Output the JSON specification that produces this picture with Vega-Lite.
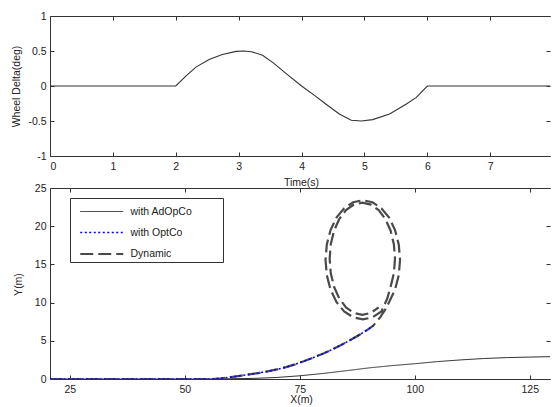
{
  "$schema": "https://vega.github.io/schema/vega-lite/v6.json",
  "background": "white",
  "padding": {"left": 11, "top": 11, "right": 0, "bottom": 0},
  "spacing": -9,
  "resolve": {"legend": {"color": "independent", "strokeDash": "independent", "strokeWidth": "independent"}},
  "config": {
    "view": {"stroke": null},
    "font": "Liberation Sans",
    "axis": {
      "grid": false,
      "domainColor": "#333",
      "tickColor": "#333",
      "labelColor": "#222",
      "titleColor": "#222",
      "labelFont": "Liberation Sans",
      "titleFont": "Liberation Sans",
      "labelFontSize": 10.5,
      "titleFontSize": 10.5,
      "titleFontWeight": "normal",
      "tickSize": -4,
      "domainWidth": 1,
      "labelExpr": "'' + datum.value"
    }
  },
  "datasets": {
    "steer": [
      {"t": 0, "v": 0}, {"t": 2, "v": 0}, {"t": 2.16, "v": 0.142}, {"t": 2.32, "v": 0.27},
      {"t": 2.53, "v": 0.38}, {"t": 2.74, "v": 0.45}, {"t": 2.96, "v": 0.495}, {"t": 3.08, "v": 0.5},
      {"t": 3.2, "v": 0.49}, {"t": 3.38, "v": 0.44}, {"t": 3.55, "v": 0.33}, {"t": 3.78, "v": 0.16},
      {"t": 4.0, "v": 0.0}, {"t": 4.2, "v": -0.13}, {"t": 4.39, "v": -0.26}, {"t": 4.6, "v": -0.4},
      {"t": 4.79, "v": -0.49}, {"t": 4.95, "v": -0.5}, {"t": 5.13, "v": -0.48}, {"t": 5.4, "v": -0.4},
      {"t": 5.66, "v": -0.26}, {"t": 5.82, "v": -0.166}, {"t": 6.0, "v": 0}, {"t": 7.95, "v": 0}
    ],
    "traj": [
      {"series": "with AdOpCo", "i": 0, "x": 20.7, "y": 0},
      {"series": "with AdOpCo", "i": 1, "x": 55, "y": 0},
      {"series": "with AdOpCo", "i": 2, "x": 60, "y": 0.03},
      {"series": "with AdOpCo", "i": 3, "x": 65, "y": 0.08},
      {"series": "with AdOpCo", "i": 4, "x": 70, "y": 0.2},
      {"series": "with AdOpCo", "i": 5, "x": 75, "y": 0.42},
      {"series": "with AdOpCo", "i": 6, "x": 80, "y": 0.72},
      {"series": "with AdOpCo", "i": 7, "x": 85, "y": 1.08},
      {"series": "with AdOpCo", "i": 8, "x": 90, "y": 1.45},
      {"series": "with AdOpCo", "i": 9, "x": 95, "y": 1.75},
      {"series": "with AdOpCo", "i": 10, "x": 100, "y": 2.0},
      {"series": "with AdOpCo", "i": 11, "x": 105, "y": 2.28},
      {"series": "with AdOpCo", "i": 12, "x": 110, "y": 2.5},
      {"series": "with AdOpCo", "i": 13, "x": 115, "y": 2.68},
      {"series": "with AdOpCo", "i": 14, "x": 120, "y": 2.8},
      {"series": "with AdOpCo", "i": 15, "x": 125, "y": 2.87},
      {"series": "with AdOpCo", "i": 16, "x": 129.4, "y": 2.92},

      {"series": "with OptCo", "i": 0, "x": 20.7, "y": 0},
      {"series": "with OptCo", "i": 1, "x": 56, "y": 0},
      {"series": "with OptCo", "i": 2, "x": 58, "y": 0.1},
      {"series": "with OptCo", "i": 3, "x": 60, "y": 0.25},
      {"series": "with OptCo", "i": 4, "x": 62, "y": 0.42},
      {"series": "with OptCo", "i": 5, "x": 64, "y": 0.6},
      {"series": "with OptCo", "i": 6, "x": 66, "y": 0.78},
      {"series": "with OptCo", "i": 7, "x": 68, "y": 1.0},
      {"series": "with OptCo", "i": 8, "x": 70, "y": 1.25},
      {"series": "with OptCo", "i": 9, "x": 72, "y": 1.55},
      {"series": "with OptCo", "i": 10, "x": 74, "y": 1.92},
      {"series": "with OptCo", "i": 11, "x": 76, "y": 2.35},
      {"series": "with OptCo", "i": 12, "x": 78, "y": 2.82},
      {"series": "with OptCo", "i": 13, "x": 80, "y": 3.3},
      {"series": "with OptCo", "i": 14, "x": 82, "y": 3.85},
      {"series": "with OptCo", "i": 15, "x": 84, "y": 4.45},
      {"series": "with OptCo", "i": 16, "x": 86, "y": 5.1},
      {"series": "with OptCo", "i": 17, "x": 88, "y": 5.8},
      {"series": "with OptCo", "i": 18, "x": 90, "y": 6.55},
      {"series": "with OptCo", "i": 19, "x": 91, "y": 7.0},

      {"series": "Dynamic", "i": 0, "x": 20.7, "y": 0},
      {"series": "Dynamic", "i": 1, "x": 56, "y": 0},
      {"series": "Dynamic", "i": 2, "x": 58, "y": 0.1},
      {"series": "Dynamic", "i": 3, "x": 60, "y": 0.25},
      {"series": "Dynamic", "i": 4, "x": 62, "y": 0.42},
      {"series": "Dynamic", "i": 5, "x": 64, "y": 0.6},
      {"series": "Dynamic", "i": 6, "x": 66, "y": 0.78},
      {"series": "Dynamic", "i": 7, "x": 68, "y": 1.0},
      {"series": "Dynamic", "i": 8, "x": 70, "y": 1.25},
      {"series": "Dynamic", "i": 9, "x": 72, "y": 1.55},
      {"series": "Dynamic", "i": 10, "x": 74, "y": 1.92},
      {"series": "Dynamic", "i": 11, "x": 76, "y": 2.35},
      {"series": "Dynamic", "i": 12, "x": 78, "y": 2.82},
      {"series": "Dynamic", "i": 13, "x": 80, "y": 3.3},
      {"series": "Dynamic", "i": 14, "x": 82, "y": 3.85},
      {"series": "Dynamic", "i": 15, "x": 84, "y": 4.45},
      {"series": "Dynamic", "i": 16, "x": 86, "y": 5.1},
      {"series": "Dynamic", "i": 17, "x": 88, "y": 5.8},
      {"series": "Dynamic", "i": 18, "x": 90, "y": 6.55},
      {"series": "Dynamic", "i": 19, "x": 91, "y": 7.0},
      {"series": "Dynamic", "i": 20, "x": 92.5, "y": 8.1},
      {"series": "Dynamic", "i": 21, "x": 93.6, "y": 9.1},
      {"series": "Dynamic", "i": 22, "x": 94.43, "y": 10.08},
      {"series": "Dynamic", "i": 23, "x": 95.71, "y": 11.7},
      {"series": "Dynamic", "i": 24, "x": 96.52, "y": 13.58},
      {"series": "Dynamic", "i": 25, "x": 96.8, "y": 15.6},
      {"series": "Dynamic", "i": 26, "x": 96.52, "y": 17.62},
      {"series": "Dynamic", "i": 27, "x": 95.71, "y": 19.5},
      {"series": "Dynamic", "i": 28, "x": 94.43, "y": 21.12},
      {"series": "Dynamic", "i": 29, "x": 92.75, "y": 22.35},
      {"series": "Dynamic", "i": 30, "x": 90.8, "y": 23.13},
      {"series": "Dynamic", "i": 31, "x": 88.7, "y": 23.4},
      {"series": "Dynamic", "i": 32, "x": 86.6, "y": 23.13},
      {"series": "Dynamic", "i": 33, "x": 84.65, "y": 22.35},
      {"series": "Dynamic", "i": 34, "x": 82.97, "y": 21.12},
      {"series": "Dynamic", "i": 35, "x": 81.69, "y": 19.5},
      {"series": "Dynamic", "i": 36, "x": 80.88, "y": 17.62},
      {"series": "Dynamic", "i": 37, "x": 80.6, "y": 15.6},
      {"series": "Dynamic", "i": 38, "x": 80.88, "y": 13.58},
      {"series": "Dynamic", "i": 39, "x": 81.69, "y": 11.7},
      {"series": "Dynamic", "i": 40, "x": 82.97, "y": 10.08},
      {"series": "Dynamic", "i": 41, "x": 84.65, "y": 8.85},
      {"series": "Dynamic", "i": 42, "x": 86.6, "y": 8.07},
      {"series": "Dynamic", "i": 43, "x": 88.7, "y": 7.8},
      {"series": "Dynamic", "i": 44, "x": 90.8, "y": 8.07},
      {"series": "Dynamic", "i": 45, "x": 92.75, "y": 8.85},
      {"series": "Dynamic", "i": 46, "x": 94.0, "y": 10.5},
      {"series": "Dynamic", "i": 47, "x": 94.75, "y": 12.07},
      {"series": "Dynamic", "i": 48, "x": 95.46, "y": 13.84},
      {"series": "Dynamic", "i": 49, "x": 95.7, "y": 15.74},
      {"series": "Dynamic", "i": 50, "x": 95.46, "y": 17.64},
      {"series": "Dynamic", "i": 51, "x": 94.75, "y": 19.41},
      {"series": "Dynamic", "i": 52, "x": 93.62, "y": 20.93},
      {"series": "Dynamic", "i": 53, "x": 92.15, "y": 22.1},
      {"series": "Dynamic", "i": 54, "x": 90.44, "y": 22.83},
      {"series": "Dynamic", "i": 55, "x": 88.6, "y": 23.08},
      {"series": "Dynamic", "i": 56, "x": 86.76, "y": 22.83},
      {"series": "Dynamic", "i": 57, "x": 85.05, "y": 22.1},
      {"series": "Dynamic", "i": 58, "x": 83.58, "y": 20.93},
      {"series": "Dynamic", "i": 59, "x": 82.45, "y": 19.41},
      {"series": "Dynamic", "i": 60, "x": 81.74, "y": 17.64},
      {"series": "Dynamic", "i": 61, "x": 81.5, "y": 15.74},
      {"series": "Dynamic", "i": 62, "x": 81.74, "y": 13.84},
      {"series": "Dynamic", "i": 63, "x": 82.45, "y": 12.07},
      {"series": "Dynamic", "i": 64, "x": 83.58, "y": 10.55},
      {"series": "Dynamic", "i": 65, "x": 85.05, "y": 9.38},
      {"series": "Dynamic", "i": 66, "x": 86.76, "y": 8.65},
      {"series": "Dynamic", "i": 67, "x": 88.6, "y": 8.4},
      {"series": "Dynamic", "i": 68, "x": 90.44, "y": 8.65},
      {"series": "Dynamic", "i": 69, "x": 92.15, "y": 9.38}
    ]
  },
  "vconcat": [
    {
      "width": 500,
      "height": 140,
      "data": {"name": "steer"},
      "layer": [
        {
          "mark": {"type": "line", "color": "#333", "strokeWidth": 1.1, "clip": true},
          "encoding": {
            "x": {"field": "t", "type": "quantitative",
                  "scale": {"domain": [0, 7.95], "nice": false, "zero": false},
                  "axis": {"values": [0, 1, 2, 3, 4, 5, 6, 7], "labelPadding": 9,
                           "title": "Time(s)", "titleX": 251, "titleY": 26, "titleBaseline": "middle", "titleAlign": "center"}},
            "y": {"field": "v", "type": "quantitative",
                  "scale": {"domain": [-1, 1], "nice": false},
                  "axis": {"values": [-1, -0.5, 0, 0.5, 1], "labelPadding": 8,
                           "title": "Wheel Delta(deg)", "titleX": -34, "titleY": 70, "titleAngle": -90, "titleBaseline": "middle", "titleAlign": "center"}}
          }
        },
        {
          "mark": {"type": "line", "strokeOpacity": 0},
          "encoding": {
            "x": {"field": "t", "type": "quantitative",
                  "axis": {"orient": "top", "values": [0, 1, 2, 3, 4, 5, 6, 7], "labels": false, "title": null}},
            "y": {"field": "v", "type": "quantitative",
                  "axis": {"orient": "right", "values": [-1, -0.5, 0, 0.5, 1], "labels": false, "domain": false, "title": null}}
          }
        }
      ],
      "resolve": {"axis": {"x": "independent", "y": "independent"}}
    },
    {
      "width": 500,
      "height": 191,
      "data": {"name": "traj"},
      "encoding": {
        "x": {"field": "x", "type": "quantitative",
              "scale": {"domain": [20.7, 129.4], "nice": false, "zero": false}},
        "y": {"field": "y", "type": "quantitative",
              "scale": {"domain": [0, 25], "nice": false}},
        "order": {"field": "i", "type": "quantitative"}
      },
      "layer": [
        {
          "transform": [{"filter": "datum.series !== 'with OptCo'"}],
          "mark": {"type": "line", "clip": true},
          "encoding": {
            "x": {"field": "x", "type": "quantitative",
                  "axis": {"values": [25, 50, 75, 100, 125], "labelPadding": 9,
                           "title": "X(m)", "titleX": 251, "titleY": 20.5, "titleBaseline": "middle", "titleAlign": "center"}},
            "y": {"field": "y", "type": "quantitative",
                  "axis": {"values": [0, 5, 10, 15, 20, 25], "labelPadding": 8,
                           "title": "Y(m)", "titleX": -32, "titleY": 96, "titleAngle": -90, "titleBaseline": "middle", "titleAlign": "center"}},
            "color": {"field": "series", "type": "nominal",
                      "scale": {"domain": ["with AdOpCo", "with OptCo", "Dynamic"], "range": ["#2a2a2a", "#0000ff", "#4a4a4a"]},
                      "legend": {"orient": "none", "legendX": 20, "legendY": 10,
                                 "title": " ", "titleOrient": "right", "titlePadding": 29, "titleFontSize": 10,
                                 "symbolType": "M-2,0H2", "symbolSize": 462, "padding": 2, "rowPadding": 3.5,
                                 "symbolOffset": 17.75, "labelOffset": 16.75,
                                 "strokeColor": "#333", "fillColor": "white",
                                 "labelFont": "Liberation Sans", "labelFontSize": 10.5, "labelColor": "#222"}},
            "strokeDash": {"field": "series", "type": "nominal",
                           "scale": {"domain": ["with AdOpCo", "with OptCo", "Dynamic"], "range": [[1, 0], [2, 2.5], [13, 5]]}},
            "strokeWidth": {"field": "series", "type": "nominal",
                            "scale": {"domain": ["with AdOpCo", "with OptCo", "Dynamic"], "range": [1, 2.2, 0.8]}}
          }
        },
        {
          "transform": [{"filter": "datum.series === 'with OptCo'"}],
          "mark": {"type": "line", "clip": true},
          "encoding": {
            "x": {"field": "x", "type": "quantitative", "axis": null},
            "y": {"field": "y", "type": "quantitative", "axis": null},
            "color": {"field": "series", "type": "nominal"},
            "strokeDash": {"field": "series", "type": "nominal"},
            "strokeWidth": {"field": "series", "type": "nominal"}
          }
        },
        {
          "mark": {"type": "line", "strokeOpacity": 0},
          "encoding": {
            "x": {"field": "x", "type": "quantitative",
                  "axis": {"orient": "top", "values": [25, 50, 75, 100, 125], "labels": false, "title": null}},
            "y": {"field": "y", "type": "quantitative",
                  "axis": {"orient": "right", "values": [0, 5, 10, 15, 20, 25], "labels": false, "domain": false, "title": null}}
          }
        }
      ],
      "resolve": {"axis": {"x": "independent", "y": "independent"}}
    }
  ]
}
